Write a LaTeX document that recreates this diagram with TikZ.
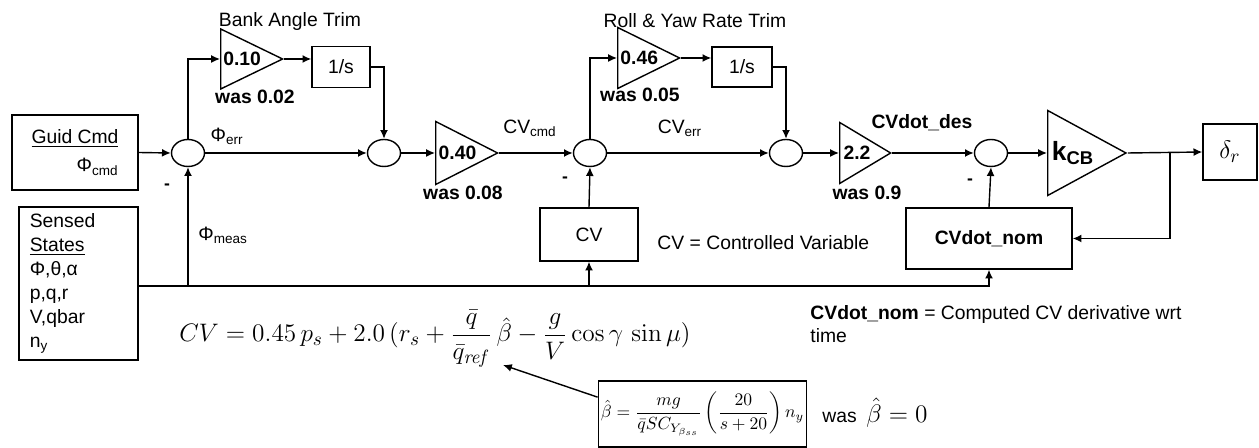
\documentclass[tikz,border=0pt]{standalone}
\usepackage[no-math]{fontspec}
\setmainfont{Liberation Sans}
\usepackage{amsmath}
\usepackage{tikz}
\usetikzlibrary{
  shapes.geometric,
  arrows.meta,
  positioning,
  calc
}

\begin{document}
\begin{tikzpicture}[
  x=0.02cm, y=-0.02cm,
  font=\fontsize{11}{13}\selectfont,
  line width=0.8pt,
  sumj/.style={ellipse, draw, minimum width=0.66cm, minimum height=0.54cm, inner sep=0pt},
  gain/.style={isosceles triangle, draw, isosceles triangle stretches, anchor=lower side, inner sep=1pt, font=\fontsize{11}{13}\selectfont\bfseries},
  blk/.style={rectangle, draw, inner sep=2pt},
  sig/.style={-{Latex[length=5pt,width=4.5pt]}},
  lbl/.style={inner sep=1pt},
  wastxt/.style={inner sep=1pt, font=\fontsize{11}{13}\selectfont\bfseries}
]
  \useasboundingbox (0,0) rectangle (1259,448);

  % input blocks
  \node[blk, minimum width=2.52cm, minimum height=1.5cm, align=right] (guid) at (75,152.5)
    {\underline{Guid Cmd}\\[3pt]Φ\textsubscript{cmd}};
  \node[blk, minimum width=2.38cm, minimum height=3.06cm, text width=1.95cm, align=left,
        font=\fontsize{11}{13.6}\selectfont] (sensed) at (78.5,283.5)
    {Sensed\\\underline{States}\\Φ,θ,α\\p,q,r\\V,qbar\\n\textsubscript{y}};

  % summing junctions
  \node[sumj] (sumA) at (188,153) {};
  \node[sumj] (sumB) at (384,153) {};
  \node[sumj] (sumC) at (590,153) {};
  \node[sumj] (sumD) at (786,153) {};
  \node[sumj] (sumE) at (991,153) {};

  % gains and integrators
  \node[gain, minimum width=1.2cm, minimum height=1.04cm] (gBank) at (220,59) {0.10};
  \node[blk, minimum width=1.16cm, minimum height=0.82cm] (intBank) at (341,67) {1/s};
  \node[gain, minimum width=1.26cm, minimum height=1.0cm] (gCmd) at (435,153) {0.40};
  \node[gain, minimum width=1.22cm, minimum height=0.94cm] (gYaw) at (617,58) {0.46};
  \node[blk, minimum width=1.2cm, minimum height=0.8cm] (intYaw) at (742,67) {1/s};
  \node[gain, minimum width=1.22cm, minimum height=0.94cm] (gDes) at (839,153) {2.2};
  \node[gain, minimum width=1.7cm, minimum height=1.38cm, font=\fontsize{15}{17}\selectfont\bfseries] (kcb) at (1047,153) {k\textsubscript{CB}};
  \node[blk, minimum width=1.08cm, minimum height=1.12cm, font=\fontsize{15}{17}\selectfont] (outbox) at (1230,152) {$\delta_r$};

  % feedback blocks
  \node[blk, minimum width=1.96cm, minimum height=1.06cm] (cv) at (589,234.5) {CV};
  \node[blk, minimum width=3.32cm, minimum height=1.22cm, font=\fontsize{11}{13}\selectfont\bfseries] (cvdot) at (989,238.5) {CVdot\_nom};

  \coordinate (tap) at (1170,153);
  \coordinate (busEnd) at (989,286);

  % forward path
  \draw[sig] (guid.east) -- (sumA.west);
  \draw[sig] (sumA.east) -- (sumB.west);
  \draw[sig] (sumB.east) -- (gCmd.lower side);
  \draw[sig] (gCmd.apex) -- (sumC.west);
  \draw[sig] (sumC.east) -- (sumD.west);
  \draw[sig] (sumD.east) -- (gDes.lower side);
  \draw[sig] (gDes.apex) -- (sumE.west);
  \draw[sig] (sumE.east) -- (kcb.lower side);
  \draw[sig] (kcb.apex) -- (outbox.west);

  % trim branches
  \draw[sig] (sumA.north) |- (gBank.lower side);
  \draw[sig] (gBank.apex) -- (gBank.apex -| intBank.west);
  \draw[sig] (intBank.east) -| (sumB.north);
  \draw[sig] (sumC.north) |- (gYaw.lower side);
  \draw[sig] (gYaw.apex) -- (gYaw.apex -| intYaw.west);
  \draw[sig] (intYaw.east) -| (sumD.north);

  % feedback
  \draw[sig] (sensed.east |- busEnd) -| (cvdot.south);
  \draw[sig] (sumA.south |- busEnd) -- (sumA.south);
  \draw[sig] (cv.south |- busEnd) -- (cv.south);
  \draw[sig] (cv.north) -- (sumC.south);
  \draw[sig] (cvdot.north) -- (sumE.south);
  \draw[sig] (tap) |- (cvdot.east);

  % signs
  \node[lbl, font=\bfseries] (mA) at (167,187) {-};
  \node[lbl, font=\bfseries] (mC) at (565,180) {-};
  \node[lbl, font=\bfseries] (mE) at (970,182) {-};

  % labels
  \node[lbl] (bankLbl) at (290,22) {Bank Angle Trim};
  \node[lbl] (yawLbl) at (695,21) {Roll \& Yaw Rate Trim};
  \node[wastxt] (wasA) at (255,97) {was 0.02};
  \node[wastxt] (wasB) at (463,193) {was 0.08};
  \node[wastxt] (wasC) at (640,95) {was 0.05};
  \node[wastxt] (wasD) at (867,193) {was 0.9};
  \node[lbl] (errLbl) at (227,136) {Φ\textsubscript{err}};
  \node[lbl] (cmdLbl) at (530,128) {CV\textsubscript{cmd}};
  \node[lbl] (cverrLbl) at (680,128) {CV\textsubscript{err}};
  \node[lbl, font=\fontsize{11}{13}\selectfont\bfseries] (desLbl) at (922,123) {CVdot\_des};
  \node[lbl, anchor=west] (measLbl) at (196,235) {Φ\textsubscript{meas}};
  \node[lbl, anchor=west] (cvNote) at (655,243) {CV = Controlled Variable};
  \node[lbl, anchor=north west, align=left] (cvdotNote) at (808,303)
    {\textbf{CVdot\_nom} = Computed CV derivative wrt\\time};

  % equations
  \node[lbl, anchor=west, font=\fontsize{15}{18}\selectfont] (cvEq) at (177,339)
    {$\displaystyle CV = 0.45\,p_s + 2.0\,(r_s + \frac{\bar q}{\bar q_{\mathit{ref}}}\,\hat\beta - \frac{g}{V}\cos\gamma\,\sin\mu)$};
  \node[blk, minimum height=1.32cm, inner sep=1.5pt, font=\fontsize{10}{12}\selectfont] (betaBox) at (702.5,414)
    {$\displaystyle \hat\beta = \frac{mg}{\bar q S C_{Y_{\beta_{ss}}}}\left(\frac{20}{s+20}\right)n_y$};
  \coordinate (betaTip) at (503,365);
  \draw[sig] ($(betaBox.north west)!0.25!(betaBox.south west)$) -- (betaTip);
  \node[lbl, anchor=west, font=\fontsize{11}{13}\selectfont] (wasBeta) at (820,413)
    {was\enspace{\fontsize{15}{18}\selectfont$\hat\beta = 0$}};
\end{tikzpicture}
\end{document}
